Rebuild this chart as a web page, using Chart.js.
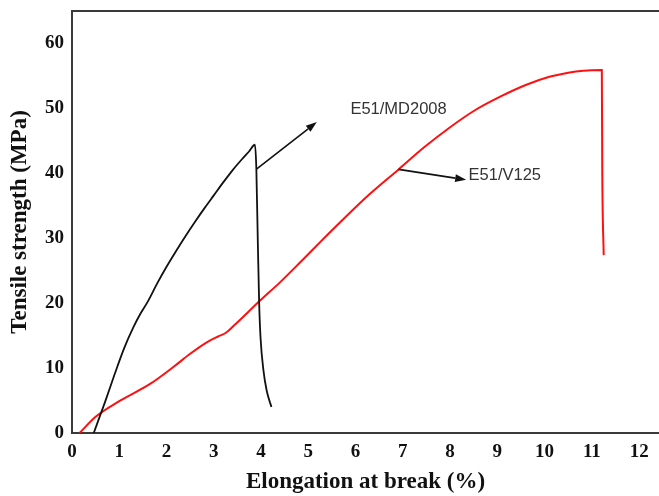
<!DOCTYPE html>
<html>
<head>
<meta charset="utf-8">
<title>Tensile strength vs elongation</title>
<script src="https://cdn.jsdelivr.net/npm/chart.js@4.4.1/dist/chart.umd.min.js"></script>
<style>
  html, body { margin: 0; padding: 0; background: #fff; }
  #wrap { width: 659px; height: 496px; position: relative; }
</style>
</head>
<body>
<div id="wrap"><canvas id="stress"></canvas></div>
<script>
// E51/MD2008 curve (elongation %, strength MPa)
var md2008X = [0.46, 0.7, 0.9, 1.1, 1.3, 1.45, 1.6, 1.8, 2.0, 2.2, 2.4, 2.6, 2.8, 3.0, 3.2, 3.4, 3.6, 3.75, 3.87, 3.9, 3.93, 3.96, 3.99, 4.05, 4.12, 4.22];
var md2008Y = [0, 4.8, 9.0, 13.0, 16.3, 18.4, 20.2, 23.0, 25.6, 28.0, 30.3, 32.5, 34.6, 36.6, 38.6, 40.5, 42.2, 43.4, 44.4, 40.8, 30.0, 20.0, 14.6, 9.7, 6.5, 4.0];

// E51/V125 curve
var v125X = [0.16, 0.5, 1.0, 1.66, 2.15, 2.5, 2.86, 3.1, 3.25, 3.45, 3.98, 4.4, 4.83, 5.25, 5.68, 6.3, 6.91, 7.45, 8.0, 8.5, 9.06, 9.6, 10.12, 10.5, 10.82, 11.21, 11.22, 11.25];
var v125Y = [0, 2.5, 4.9, 7.6, 10.2, 12.2, 14.0, 14.9, 15.4, 16.7, 20.4, 23.2, 26.3, 29.4, 32.5, 36.8, 40.6, 44.0, 47.1, 49.6, 51.8, 53.6, 54.9, 55.5, 55.8, 55.9, 40.0, 27.4];

var xTicks = [0, 1, 2, 3, 4, 5, 6, 7, 8, 9, 10, 11, 12];
var yTicks = [0, 10, 20, 30, 40, 50, 60];

// curve labels: text, arrow tail (on curve), arrow head, label anchor
var labelText = ['E51/MD2008', 'E51/V125'];
var arrowFrom = [[3.91, 40.7], [6.91, 40.6]];
var arrowTo = [[5.18, 47.9], [8.34, 39.0]];
var labelAt = [[5.89, 49.9], [8.39, 39.6]];

function toPoints(xs, ys) {
    return xs.map(function (x, i) { return { x: x, y: ys[i] }; });
}

var serif = 'Liberation Serif, Times New Roman, serif';

// draws the top frame line plus the arrows and curve names
var annotate = {
    id: 'annotate',
    afterDatasetsDraw: function (chart) {
        var ctx = chart.ctx;
        var xs = chart.scales.x, ys = chart.scales.y;
        var area = chart.chartArea;

        ctx.save();
        ctx.strokeStyle = '#3a3a3a';
        ctx.lineWidth = 2;
        ctx.beginPath();
        ctx.moveTo(area.left - 1, area.top);
        ctx.lineTo(area.right, area.top);
        ctx.stroke();

        ctx.strokeStyle = '#111';
        ctx.fillStyle = '#111';
        ctx.lineWidth = 1.6;
        for (var i = 0; i < labelText.length; i++) {
            var x0 = xs.getPixelForValue(arrowFrom[i][0]), y0 = ys.getPixelForValue(arrowFrom[i][1]);
            var x1 = xs.getPixelForValue(arrowTo[i][0]), y1 = ys.getPixelForValue(arrowTo[i][1]);
            var ang = Math.atan2(y1 - y0, x1 - x0);
            var len = 11, half = 3.8;
            var bx = x1 - len * Math.cos(ang), by = y1 - len * Math.sin(ang);
            ctx.beginPath();
            ctx.moveTo(x0, y0);
            ctx.lineTo(bx, by);
            ctx.stroke();
            ctx.beginPath();
            ctx.moveTo(x1, y1);
            ctx.lineTo(bx + half * Math.sin(ang), by - half * Math.cos(ang));
            ctx.lineTo(bx - half * Math.sin(ang), by + half * Math.cos(ang));
            ctx.closePath();
            ctx.fill();
        }

        ctx.fillStyle = '#333';
        ctx.font = '16.5px Liberation Sans, Arial, sans-serif';
        ctx.textAlign = 'left';
        ctx.textBaseline = 'middle';
        for (var j = 0; j < labelText.length; j++) {
            ctx.fillText(labelText[j], xs.getPixelForValue(labelAt[j][0]), ys.getPixelForValue(labelAt[j][1]));
        }
        ctx.restore();
    }
};

var stressChart = new Chart(document.getElementById('stress'), {
    type: 'line',
    data: {
        datasets: [{
            label: 'E51/MD2008',
            data: toPoints(md2008X, md2008Y),
            borderColor: '#111111',
            borderWidth: 1.8,
            pointRadius: 0,
            cubicInterpolationMode: 'monotone'
        }, {
            label: 'E51/V125',
            data: toPoints(v125X, v125Y),
            borderColor: '#ff1010',
            borderWidth: 2,
            pointRadius: 0,
            cubicInterpolationMode: 'monotone'
        }]
    },
    options: {
        responsive: true,
        maintainAspectRatio: false,
        animation: false,
        layout: { padding: { top: 11, right: 0, left: 0, bottom: 0 } },
        plugins: {
            legend: { display: false },
            tooltip: { enabled: false }
        },
        scales: {
            x: {
                type: 'linear',
                min: 0,
                max: 12.42,
                afterBuildTicks: function (scale) {
                    scale.ticks = xTicks.map(function (v) { return { value: v }; });
                },
                afterFit: function (scale) {
                    scale.height = 63;
                    scale.paddingLeft = 0;
                    scale.paddingRight = 0;
                },
                grid: { display: false, drawTicks: false },
                border: { display: true, color: '#3a3a3a', width: 2 },
                ticks: {
                    padding: 8,
                    color: '#111',
                    font: { family: serif, size: 19, weight: 'bold' }
                },
                title: {
                    display: true,
                    text: 'Elongation at break (%)',
                    color: '#111',
                    padding: { top: 0, bottom: 0 },
                    font: { family: serif, size: 23, weight: 'bold' }
                }
            },
            y: {
                min: 0,
                max: 65,
                afterBuildTicks: function (scale) {
                    scale.ticks = yTicks.map(function (v) { return { value: v }; });
                },
                afterFit: function (scale) {
                    scale.width = 72;
                    scale.paddingTop = 0;
                    scale.paddingBottom = 0;
                },
                grid: { display: false, drawTicks: false },
                border: { display: true, color: '#3a3a3a', width: 2 },
                ticks: {
                    padding: 8,
                    color: '#111',
                    font: { family: serif, size: 19, weight: 'bold' }
                },
                title: {
                    display: true,
                    text: 'Tensile strength (MPa)',
                    color: '#111',
                    padding: { top: 6, bottom: 0 },
                    font: { family: serif, size: 23, weight: 'bold' }
                }
            }
        }
    },
    plugins: [annotate]
});
</script>
</body>
</html>
